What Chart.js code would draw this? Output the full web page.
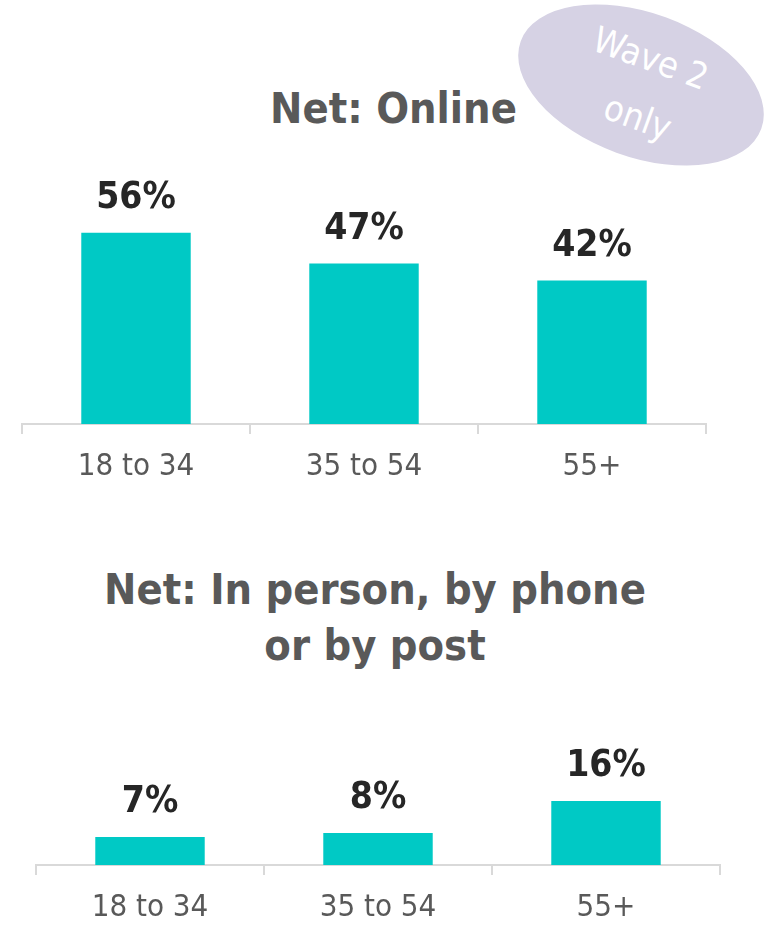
<!DOCTYPE html>
<html>
<head>
<meta charset="utf-8">
<script src="https://cdn.jsdelivr.net/npm/chart.js@4"></script>
<style>
  body { margin: 0; width: 770px; height: 930px; overflow: hidden; background: #fff; position: relative; }
  .title { position: absolute; left: 0; text-align: center; white-space: nowrap; color: #595959;
           font-family: "DejaVu Sans Condensed", "DejaVu Sans", sans-serif; font-weight: bold;
           font-size: 43px; line-height: 56px; }
  .box { position: absolute; left: 0; width: 770px; }
  .badge { position: absolute; left: 513px; top: 13px; width: 256px; height: 144px; border-radius: 50%;
           background: #d6d2e4; transform: rotate(20deg); }
  .badge span { position: absolute; left: 0; width: 256px; text-align: center; color: #fff;
                font-family: "DejaVu Sans Condensed", "DejaVu Sans", sans-serif; font-size: 36px; line-height: 40px; }
</style>
</head>
<body>
<div class="title" style="top:80px; width:787px;">Net: Online</div>
<div class="badge"><span style="top:24px;">Wave 2</span><span style="top:84px; left:8px;">only</span></div>
<div class="box" style="top:150px; height:340px;"><canvas id="onlineChart"></canvas></div>

<div class="title" style="top:561px; width:750px;">Net: In person, by phone<br>or by post</div>
<div class="box" style="top:700px; height:230px;"><canvas id="offlineChart"></canvas></div>

<script>
var ageGroups = ['18 to 34', '35 to 54', '55+'];
var onlineValues = [56, 47, 42];
var offlineValues = [7, 8, 16];

var barColor = '#00c9c5';
var axisColor = '#d9d9d9';
var fontFamily = '"DejaVu Sans Condensed", "DejaVu Sans", sans-serif';

var valueLabels = {
  id: 'valueLabels',
  afterDatasetsDraw: function(chart) {
    var ctx = chart.ctx;
    var meta = chart.getDatasetMeta(0);
    var data = chart.data.datasets[0].data;
    ctx.save();
    ctx.fillStyle = '#262626';
    ctx.font = 'bold 37px ' + fontFamily;
    ctx.textAlign = 'center';
    ctx.textBaseline = 'alphabetic';
    for (var i = 0; i < meta.data.length; i++) {
      var bar = meta.data[i];
      ctx.fillText(data[i] + '%', bar.x, bar.y - 25);
    }
    ctx.restore();
  }
};

function makeChart(id, values, yMax, padding, axisHeight) {
  var ctx = document.getElementById(id).getContext('2d');
  return new Chart(ctx, {
    type: 'bar',
    data: {
      labels: ageGroups,
      datasets: [{
        data: values,
        backgroundColor: barColor,
        categoryPercentage: 1,
        barPercentage: 0.48
      }]
    },
    options: {
      responsive: true,
      maintainAspectRatio: false,
      animation: false,
      layout: { padding: padding },
      plugins: {
        legend: { display: false },
        tooltip: { enabled: false }
      },
      scales: {
        x: {
          afterFit: function(scale) { scale.height = axisHeight; },
          grid: {
            offset: true,
            drawOnChartArea: false,
            drawTicks: true,
            tickLength: 10,
            color: axisColor,
            lineWidth: 2
          },
          border: { display: true, color: axisColor, width: 2 },
          ticks: {
            color: '#595959',
            padding: 14,
            font: { family: fontFamily, size: 31 }
          }
        },
        y: {
          display: false,
          min: 0,
          max: yMax
        }
      }
    },
    plugins: [valueLabels]
  });
}

makeChart('onlineChart', onlineValues, 70, { top: 35, left: 22, right: 64, bottom: 0 }, 66);
makeChart('offlineChart', offlineValues, 40, { top: 5, left: 36, right: 50, bottom: 0 }, 65);
</script>
</body>
</html>
